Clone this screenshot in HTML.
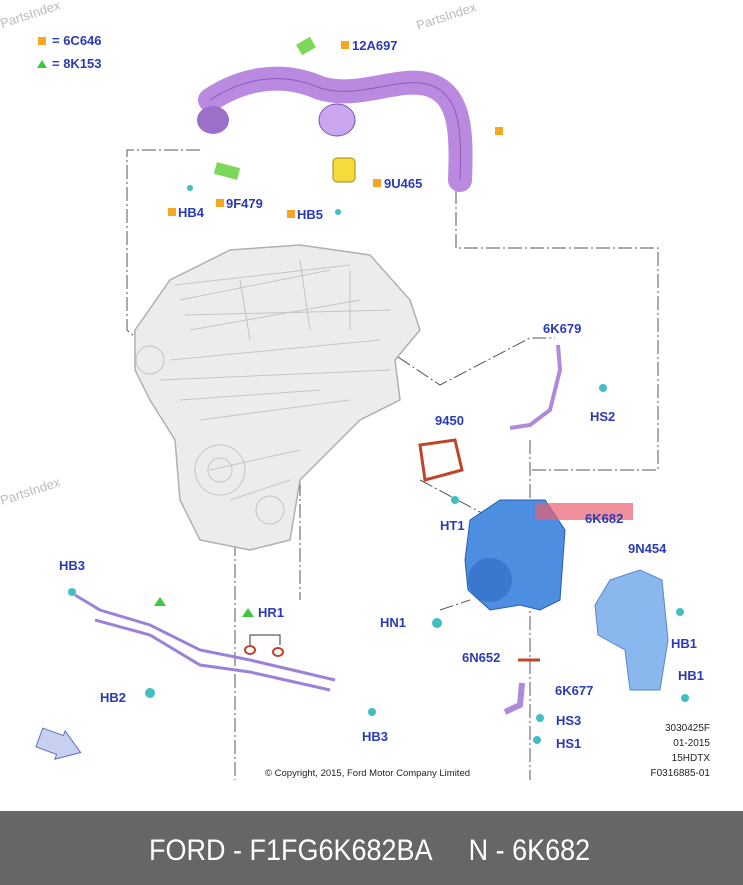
<!DOCTYPE html>
<html><head><meta charset="utf-8"><style>
html,body{margin:0;padding:0;background:#fff;}
#w{position:relative;width:743px;height:885px;overflow:hidden;font-family:"Liberation Sans",sans-serif;}
.l{position:absolute;color:#2a3bb5;font-weight:bold;font-size:13px;}
.o{position:absolute;width:8px;height:8px;background:#f5a623;}
.bar{position:absolute;left:0;top:811px;width:743px;height:74px;background:#666;}
.bt{position:absolute;left:149px;top:834px;color:#fff;font-size:30px;white-space:pre;transform:scaleX(0.9);transform-origin:left top;line-height:34px;}
.r{position:absolute;font-size:10px;color:#222;text-align:right;width:90px;left:620px;}
</style></head><body><div id="w">
<svg width="743" height="811" style="position:absolute;left:0;top:0">
<g fill="none" stroke="#555" stroke-width="1" stroke-dasharray="14,3,2,3">
<polyline points="200,150 127,150 127,330 150,350"/>
<polyline points="456,190 456,248 658,248 658,470 530,470"/>
<polyline points="380,345 440,385 530,338 555,338"/>
<polyline points="420,480 495,520"/>
<polyline points="530,440 530,780"/>
<polyline points="235,520 235,780"/>
<polyline points="300,350 300,600"/>
<polyline points="440,610 470,600"/>
</g>
<!-- engine -->
<path d="M135,330 L170,280 L230,250 L300,245 L370,255 L410,300 L420,330 L395,360 L400,400 L360,420 L330,450 L300,480 L290,540 L250,550 L200,540 L180,500 L175,440 L150,400 L135,370 Z" fill="#ececec" stroke="#b0b0b0" stroke-width="1.5"/>
<g stroke="#c4c4c4" fill="none"><path d="M180,300 L330,270 M190,330 L360,300 M170,360 L380,340 M200,420 L350,400 M210,470 L300,450 M175,285 L350,265 M185,315 L390,310 M160,380 L390,370 M180,400 L320,390 M240,280 L250,340 M300,260 L310,330 M350,270 L350,330 M230,500 L290,480"/><circle cx="220" cy="470" r="25"/><circle cx="220" cy="470" r="12"/><circle cx="150" cy="360" r="14"/><circle cx="270" cy="510" r="14"/></g>
<!-- top pipe -->
<path d="M210,100 C240,80 280,70 320,88 C360,100 400,75 430,85 C460,95 462,130 460,180" fill="none" stroke="#b98ae0" stroke-width="24" stroke-linecap="round"/>
<path d="M210,100 C240,80 280,70 320,88 C360,100 400,75 430,85 C460,95 462,130 460,180" fill="none" stroke="#8a5cb8" stroke-width="1"/>
<ellipse cx="213" cy="120" rx="16" ry="14" fill="#9a70c8"/>
<ellipse cx="337" cy="120" rx="18" ry="16" fill="#caa6ee" stroke="#7a50a8"/>
<rect x="298" y="40" width="16" height="12" fill="#7dd85a" transform="rotate(-30 306 46)"/>
<rect x="215" y="165" width="24" height="12" fill="#7dd85a" transform="rotate(15 227 171)"/>
<rect x="333" y="158" width="22" height="24" rx="4" fill="#f5dc3c" stroke="#a08a10"/>
<!-- 6K679 tube -->
<path d="M558,345 L560,370 L550,410 L530,425 L510,428" fill="none" stroke="#b08ad8" stroke-width="4"/>
<!-- gasket 9450 -->
<path d="M420,445 L455,440 L462,470 L425,480 Z" fill="none" stroke="#c0442a" stroke-width="3"/>
<!-- turbo -->
<path d="M470,520 L500,500 L545,500 L565,530 L560,600 L540,610 L520,605 L490,610 L468,590 L465,560 Z" fill="#4d8ee0" stroke="#2a5ab0"/>
<circle cx="490" cy="580" r="22" fill="#3a78d0"/>
<rect x="535" y="503" width="98" height="17" fill="#e86070" opacity="0.7"/>
<!-- heat shield -->
<path d="M610,580 L640,570 L662,580 L668,640 L660,690 L630,690 L625,650 L598,635 L595,605 Z" fill="#8ab8ee" stroke="#5a88c8"/>
<!-- bottom pipes -->
<g fill="none" stroke="#9a82d8" stroke-width="3">
<path d="M75,595 L100,610 L150,625 L200,650 L250,660 L335,680"/>
<path d="M95,620 L150,635 L200,665 L250,672 L330,690"/>
</g>
<path d="M518,660 L540,660" stroke="#c0442a" stroke-width="3"/>
<path d="M522,683 L520,705 L505,712" fill="none" stroke="#b08ad8" stroke-width="6"/>
<path d="M250,645 l0,-10 l30,0 l0,10" fill="none" stroke="#333"/>
<ellipse cx="250" cy="650" rx="5" ry="4" fill="none" stroke="#c0442a" stroke-width="2"/>
<ellipse cx="278" cy="652" rx="5" ry="4" fill="none" stroke="#c0442a" stroke-width="2"/>
<polygon points="38,735 60,735 60,730 82,745 60,760 60,755 38,755" fill="#c8d0f0" stroke="#6070c0" transform="rotate(20 60 745)"/>
<polygon points="42,60 47,68 37,68" fill="#3ec83e"/>
<polygon points="160,597 166,606 154,606" fill="#3ec83e"/>
<polygon points="248,608 254,617 242,617" fill="#3ec83e"/>
<g fill="#3fbfbf"><circle cx="190" cy="188" r="3"/><circle cx="338" cy="212" r="3"/><circle cx="603" cy="388" r="4"/><circle cx="455" cy="500" r="4"/><circle cx="437" cy="623" r="5"/><circle cx="72" cy="592" r="4"/><circle cx="150" cy="693" r="5"/><circle cx="372" cy="712" r="4"/><circle cx="680" cy="612" r="4"/><circle cx="685" cy="698" r="4"/><circle cx="540" cy="718" r="4"/><circle cx="537" cy="740" r="4"/></g>
<g fill="#bbb" font-size="13" font-family="Liberation Sans,sans-serif"><text x="2" y="28" transform="rotate(-18 2 28)">PartsIndex</text><text x="418" y="30" transform="rotate(-18 418 30)">PartsIndex</text><text x="2" y="505" transform="rotate(-18 2 505)">PartsIndex</text></g>
</svg>
<div class="o" style="left:38px;top:37px"></div><div class="l" style="left:52px;top:33px">= 6C646</div>
<div class="l" style="left:52px;top:56px">= 8K153</div>
<div class="o" style="left:341px;top:41px"></div><div class="l" style="left:352px;top:38px">12A697</div>
<div class="o" style="left:495px;top:127px"></div>
<div class="o" style="left:373px;top:179px"></div><div class="l" style="left:384px;top:176px">9U465</div>
<div class="o" style="left:216px;top:199px"></div><div class="l" style="left:226px;top:196px">9F479</div>
<div class="o" style="left:168px;top:208px"></div><div class="l" style="left:178px;top:205px">HB4</div>
<div class="o" style="left:287px;top:210px"></div><div class="l" style="left:297px;top:207px">HB5</div>
<div class="l" style="left:543px;top:321px">6K679</div>
<div class="l" style="left:590px;top:409px">HS2</div>
<div class="l" style="left:435px;top:413px">9450</div>
<div class="l" style="left:440px;top:518px">HT1</div>
<div class="l" style="left:585px;top:511px">6K682</div>
<div class="l" style="left:628px;top:541px">9N454</div>
<div class="l" style="left:671px;top:636px">HB1</div>
<div class="l" style="left:678px;top:668px">HB1</div>
<div class="l" style="left:59px;top:558px">HB3</div>
<div class="l" style="left:258px;top:605px">HR1</div>
<div class="l" style="left:380px;top:615px">HN1</div>
<div class="l" style="left:462px;top:650px">6N652</div>
<div class="l" style="left:555px;top:683px">6K677</div>
<div class="l" style="left:556px;top:713px">HS3</div>
<div class="l" style="left:556px;top:736px">HS1</div>
<div class="l" style="left:100px;top:690px">HB2</div>
<div class="l" style="left:362px;top:729px">HB3</div>
<div class="r" style="top:723px">3030425F</div>
<div class="r" style="top:738px">01-2015</div>
<div class="r" style="top:753px">15HDTX</div>
<div class="r" style="top:768px">F0316885-01</div>
<div style="position:absolute;left:265px;top:768px;font-size:9.5px;color:#222">© Copyright, 2015, Ford Motor Company Limited</div>
<div class="bar"></div>
<div class="bt">FORD - F1FG6K682BA     N - 6K682</div>
</div></body></html>
